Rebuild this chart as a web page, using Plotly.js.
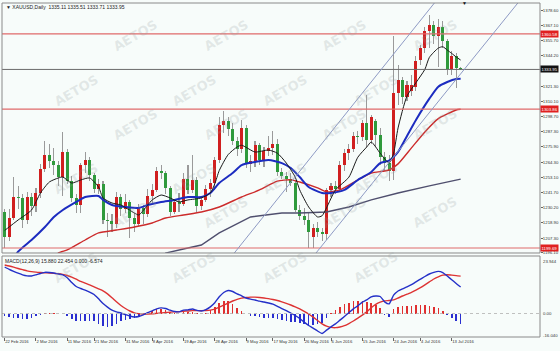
<!DOCTYPE html>
<html><head><meta charset="utf-8">
<script src="https://cdn.plot.ly/plotly-3.0.1.min.js"></script>
<style>html,body{margin:0;padding:0;background:#f7fcfa;}#chart{width:560px;height:351px;}</style>
</head><body><div id="chart"></div><script>
// ---------- DATA ----------
const dates = ["2016-02-22","2016-02-23","2016-02-24","2016-02-25","2016-02-26","2016-02-29",
"2016-03-01","2016-03-02","2016-03-03","2016-03-04","2016-03-07","2016-03-08","2016-03-09","2016-03-10","2016-03-11","2016-03-14","2016-03-15","2016-03-16","2016-03-17","2016-03-18","2016-03-21","2016-03-22","2016-03-23","2016-03-24","2016-03-28","2016-03-29","2016-03-30","2016-03-31",
"2016-04-01","2016-04-04","2016-04-05","2016-04-06","2016-04-07","2016-04-08","2016-04-11","2016-04-12","2016-04-13","2016-04-14","2016-04-15","2016-04-18","2016-04-19","2016-04-20","2016-04-21","2016-04-22","2016-04-25","2016-04-26","2016-04-27","2016-04-28","2016-04-29",
"2016-05-02","2016-05-03","2016-05-04","2016-05-05","2016-05-06","2016-05-09","2016-05-10","2016-05-11","2016-05-12","2016-05-13","2016-05-16","2016-05-17","2016-05-18","2016-05-19","2016-05-20","2016-05-23","2016-05-24","2016-05-25","2016-05-26","2016-05-27","2016-05-31",
"2016-06-01","2016-06-02","2016-06-03","2016-06-06","2016-06-07","2016-06-08","2016-06-09","2016-06-10","2016-06-13","2016-06-14","2016-06-15","2016-06-16","2016-06-17","2016-06-20","2016-06-21","2016-06-22","2016-06-23","2016-06-24","2016-06-27","2016-06-28","2016-06-29","2016-06-30",
"2016-07-01","2016-07-04","2016-07-05","2016-07-06","2016-07-07","2016-07-08","2016-07-11","2016-07-12","2016-07-13","2016-07-14","2016-07-15"];

const open = [1227,1208,1222,1238,1237,1221,1238,1231,1241,1259,1270,1265,1262,1253,1272,1250,1237,1232,1262,1266,1255,1244,1248,1221,1220,1218,1238,1229,
1234,1222,1218,1230,1225,1239,1243,1258,1256,1245,1227,1234,1233,1252,1243,1251,1231,1236,1244,1249,1266,
1292,1295,1289,1280,1274,1290,1263,1265,1277,1266,1273,1275,1278,1257,1254,1252,1249,1228,1224,1221,1208,
1215,1212,1210,1243,1246,1244,1262,1271,1274,1284,1283,1294,1281,1295,1285,1268,1264,1258,1316,1326,1313,1318,
1321,1341,1350,1363,1367,1359,1366,1355,1334,1344,1335.11];
const high = [1229,1229,1253,1246,1240,1242,1241,1245,1263,1280,1278,1275,1265,1287,1274,1254,1240,1264,1272,1268,1256,1252,1250,1226,1225,1242,1240,1240,
1236,1226,1233,1232,1244,1248,1261,1262,1258,1246,1236,1241,1256,1262,1270,1253,1239,1247,1252,1268,1298,
1303,1298,1294,1283,1296,1292,1270,1280,1279,1276,1284,1288,1282,1260,1257,1256,1251,1232,1230,1226,1218,
1219,1215,1245,1249,1250,1265,1274,1278,1287,1288,1296,1315,1300,1297,1290,1272,1270,1359,1337,1328,1325,1330,
1344,1352,1366,1375,1370,1372,1370,1357,1348,1346,1335.51];
const low = [1200,1205,1221,1229,1215,1218,1224,1227,1237,1257,1260,1255,1246,1239,1248,1234,1226,1226,1256,1250,1241,1240,1218,1208,1212,1215,1224,1226,
1207,1212,1216,1218,1223,1233,1242,1252,1240,1224,1225,1227,1231,1240,1241,1227,1228,1234,1238,1243,1264,
1286,1284,1277,1269,1271,1260,1257,1261,1262,1261,1269,1270,1254,1252,1242,1246,1227,1221,1217,1200,1200,
1208,1205,1206,1238,1240,1242,1258,1266,1272,1278,1280,1276,1278,1276,1262,1258,1250,1251,1307,1308,1310,1314,
1318,1337,1346,1350,1353,1336,1350,1330,1330,1320,1333.71];
const close = [1208,1222,1238,1237,1221,1238,1231,1241,1259,1270,1265,1262,1253,1272,1250,1237,1232,1262,1266,1255,1244,1248,1221,1220,1218,1238,1229,1234,
1222,1218,1230,1225,1239,1243,1258,1256,1245,1227,1234,1233,1252,1243,1251,1231,1236,1244,1249,1266,1292,
1295,1289,1280,1274,1290,1263,1265,1277,1266,1273,1275,1278,1257,1254,1252,1249,1228,1224,1221,1212,1215,
1212,1210,1243,1246,1244,1262,1271,1274,1284,1283,1294,1281,1298,1285,1268,1264,1258,1316,1326,1313,1322,1322,
1340,1350,1363,1367,1359,1366,1355,1334,1344,1335,1333.95];

const maBlackDates = ["2016-02-22","2016-02-23","2016-02-25","2016-03-01","2016-03-03","2016-03-07","2016-03-09","2016-03-10","2016-03-14","2016-03-16","2016-03-18","2016-03-22","2016-03-23","2016-03-28","2016-03-30","2016-04-04","2016-04-05","2016-04-07","2016-04-08","2016-04-12","2016-04-14","2016-04-18","2016-04-20","2016-04-25","2016-04-27","2016-04-28","2016-04-29","2016-05-03","2016-05-05","2016-05-06","2016-05-11","2016-05-16","2016-05-18","2016-05-20","2016-05-24","2016-05-25","2016-05-27","2016-06-01","2016-06-02","2016-06-03","2016-06-07","2016-06-10","2016-06-14","2016-06-16","2016-06-17","2016-06-21","2016-06-23","2016-06-24","2016-06-27","2016-06-29","2016-07-01","2016-07-05","2016-07-06","2016-07-08","2016-07-11","2016-07-12","2016-07-13","2016-07-14","2016-07-15"];
const maBlack = [1213,1215.6,1220.8,1228.3,1241.1,1249.4,1252.4,1253.1,1248.6,1250.9,1252.4,1245.6,1237.4,1233.6,1232.1,1226.1,1224.6,1232.1,1235.9,1239.6,1237.4,1234.4,1235.9,1237.4,1241.1,1248,1258,1270,1275.7,1277,1271.9,1273.4,1271,1263.6,1253,1243.4,1230.6,1223.1,1224,1230,1243.4,1253,1268,1275.7,1279.4,1271,1263.6,1271,1290,1314,1324,1334,1343,1350,1351,1348.5,1346,1343.3,1341];

const maBlueDates = ["2016-02-23","2016-02-25","2016-03-01","2016-03-04","2016-03-08","2016-03-10","2016-03-15","2016-03-17","2016-03-22","2016-03-23","2016-03-28","2016-03-31","2016-04-05","2016-04-07","2016-04-12","2016-04-15","2016-04-20","2016-04-25","2016-04-27","2016-04-29","2016-05-04","2016-05-06","2016-05-11","2016-05-16","2016-05-19","2016-05-23","2016-05-25","2016-05-27","2016-06-02","2016-06-06","2016-06-09","2016-06-14","2016-06-17","2016-06-21","2016-06-23","2016-06-27","2016-06-29","2016-07-01","2016-07-06","2016-07-08","2016-07-12","2016-07-14","2016-07-15"];
const maBlue = [1185,1197,1205.8,1215.6,1223,1228.3,1234.4,1238.1,1238.9,1235.9,1232.1,1230.6,1229.9,1232.1,1234.4,1235.9,1238.1,1238.1,1241.1,1248.6,1256.1,1262.1,1264.4,1265.9,1263.6,1259.9,1253.1,1245.6,1241.1,1241.1,1243.4,1250.9,1256.9,1263.6,1265.5,1272,1284,1296,1312,1321,1324.5,1326.8,1327];

const maRedDates = ["2016-03-08","2016-03-09","2016-03-11","2016-03-17","2016-03-22","2016-03-29","2016-04-04","2016-04-08","2016-04-13","2016-04-19","2016-04-25","2016-04-29","2016-05-06","2016-05-12","2016-05-18","2016-05-23","2016-05-25","2016-06-01","2016-06-03","2016-06-08","2016-06-14","2016-06-17","2016-06-23","2016-06-27","2016-06-30","2016-07-05","2016-07-08","2016-07-12","2016-07-14","2016-07-15"];
const maRed = [1190,1196,1198.3,1205.8,1211.1,1213.3,1215.6,1218.6,1222.3,1224.6,1226.8,1230.6,1238.1,1243.4,1250,1251,1249.4,1244.9,1241.9,1243.4,1250.9,1256.1,1258.4,1263,1275,1287,1297,1300.5,1303.5,1304];

const maGrayDates = ["2016-04-12","2016-04-13","2016-04-19","2016-04-25","2016-04-29","2016-05-10","2016-05-19","2016-05-25","2016-06-03","2016-06-10","2016-06-17","2016-06-27","2016-07-06","2016-07-14","2016-07-15"];
const maGray = [1190,1196,1199,1202,1211.1,1223.1,1226.1,1226.1,1226.8,1230.6,1235.9,1241.1,1246.5,1250.9,1251.5];

// MACD(12,26,9), one value per bar
const macdMain = [27.9,26.5,25.3,24.2,23.2,22.6,22.5,23.2,24.0,24.7,24.6,24.3,23.7,23.2,21.5,18.6,16.2,15.0,14.0,12.8,11.4,8.8,6.0,3.8,2.0,1.0,0.3,-0.6,
-1.5,-2.1,-1.8,-0.8,0.5,1.6,2.8,3.4,3.0,2.0,1.2,1.0,2.0,2.2,2.7,1.9,1.5,2.3,4.0,6.5,10.0,
12.6,13.8,13.2,11.8,10.6,9.3,8.6,8.1,7.4,6.9,6.3,5.6,4.3,3.0,1.7,0.3,-1.2,-3.0,-5.2,-7.2,-8.8,
-10.5,-12.0,-10.0,-8.0,-6.2,-4.0,-1.8,0.5,2.8,4.6,6.8,8.2,10.0,10.5,10.2,7.0,5.8,11.0,13.5,14.8,16.0,17.3,
19.0,20.6,22.2,23.7,24.7,25.3,24.6,22.5,20.3,18.0,15.88];
const macdSignal = [29.1,28.5,27.8,27.0,26.3,25.6,25.1,24.8,24.6,24.4,24.3,24.1,23.9,23.5,22.8,21.8,20.6,19.3,18.2,17.2,16.0,14.8,13.6,11.8,9.5,7.0,4.8,3.0,
1.5,0.4,-0.1,-0.3,-0.3,-0.2,0.1,0.4,0.6,0.8,1.0,1.1,1.3,1.5,1.7,1.7,1.7,1.8,2.0,2.6,3.8,
5.0,6.3,7.5,8.5,9.2,9.6,9.8,9.8,9.6,9.3,8.9,8.4,7.8,7.0,6.1,5.1,4.0,2.8,1.3,-0.3,-2.2,
-4.2,-6.2,-7.6,-8.3,-8.5,-8.1,-7.3,-6.0,-4.5,-2.8,-1.0,1.0,3.5,5.5,6.8,7.6,7.8,8.2,9.3,10.5,11.6,12.7,
14.0,15.5,17.2,19.0,20.7,22.0,23.0,23.3,23.0,22.7,22.454];
const macdHist = [-1.2,-2.0,-2.5,-2.8,-3.1,-3.0,-2.6,-1.6,-0.6,0.3,0.3,0.2,-0.2,-0.3,-1.3,-3.2,-4.4,-4.3,-4.2,-4.4,-4.6,-6.0,-7.6,-8.0,-7.5,-6.0,-4.5,-3.6,
-3.0,-2.5,-1.7,-0.5,0.8,1.8,2.7,3.0,2.4,1.2,0.2,-0.1,0.7,0.7,1.0,0.2,-0.2,0.5,2.0,3.9,6.2,
7.6,7.5,5.7,3.3,1.4,-0.3,-1.2,-1.7,-2.2,-2.4,-2.6,-2.8,-3.5,-4.0,-4.4,-4.8,-5.2,-5.8,-6.5,-6.9,-6.6,
-6.3,-5.8,-2.4,0.3,2.3,4.1,5.5,6.5,7.3,7.4,7.8,7.2,6.5,5.0,3.4,-0.6,-2.0,2.8,4.2,4.3,4.4,4.6,
5.0,5.1,5.0,4.7,4.0,3.3,1.6,-0.8,-2.7,-4.7,-6.574];

// horizontal levels and channel anchors (date index, price)
const resistanceLevels = [1360.6, 1304.2, 1199.8];
const resistanceLabels = ["1360.58", "1303.86", "1199.69"];
const lastPrice = 1333.95;
const channelUpper = [[48, 1181.9], [100, 1400.1]];
const channelLower = [[68, 1189.2], [118, 1397.2]];

// axis ticks (1332.80 sits under the current-price box, so it is not drawn)
const priceTicks = [1378.60,1367.10,1355.70,1344.20,1321.30,1310.10,1298.70,1287.30,1275.90,1264.30,1253.10,1241.70,1230.20,1218.90,1207.30,1196.10];
const tickDates = ["2016-02-22","2016-03-02","2016-03-11","2016-03-21","2016-03-31","2016-04-08","2016-04-19","2016-04-28","2016-05-09","2016-05-17","2016-05-26","2016-06-06","2016-06-15","2016-06-24","2016-07-04","2016-07-13"];
const tickLabels = ["22 Feb 2016","2 Mar 2016","11 Mar 2016","21 Mar 2016","31 Mar 2016","8 Apr 2016","19 Apr 2016","28 Apr 2016","9 May 2016","17 May 2016","26 May 2016","6 Jun 2016","15 Jun 2016","24 Jun 2016","4 Jul 2016","13 Jul 2016"];
const macdAxisLabels = ["23.944", "0.00", "-16.040"];
const titleText = "▼ XAUUSD,Daily  1335.11 1335.51 1333.71 1333.95";
const macdTitle = "MACD(12,26,9) 15.880 22.454 0.000 -6.574";

// ---------- STYLE ----------
const UP = '#d01f1f', DOWN = '#2f9a3c', WICK = '#9a9a9a';
const BG = '#f7fcfa';
const FONT = 'Liberation Sans, Arial, sans-serif';
const AX = 4.3;
const mainDom = [0.2515, 1], macdDom = [0, 0.2425];

const traces = [];
traces.push({type:'bar', x:dates, base:low, y:high.map((h,i)=>h-low[i]), width:0.24,
  marker:{color:WICK, line:{width:0}}, hoverinfo:'skip', xaxis:'x', yaxis:'y'});
traces.push({type:'bar', x:dates, base:open, y:close.map((c,i)=>c-open[i]), width:0.68,
  marker:{color:close.map((c,i)=>c>=open[i]?UP:DOWN), line:{width:0}}, hoverinfo:'skip', xaxis:'x', yaxis:'y'});
traces.push({type:'scatter', mode:'lines', x:maGrayDates, y:maGray, line:{color:'#4f4f6e', width:1.4}, xaxis:'x', yaxis:'y'});
traces.push({type:'scatter', mode:'lines', x:maRedDates, y:maRed, line:{color:'#cc2b2b', width:1.4, shape:'spline', smoothing:0.6}, xaxis:'x', yaxis:'y'});
traces.push({type:'scatter', mode:'lines', x:maBlueDates, y:maBlue, line:{color:'#1c2cc0', width:2, shape:'spline', smoothing:0.6}, xaxis:'x', yaxis:'y'});
traces.push({type:'scatter', mode:'lines', x:maBlackDates, y:maBlack, line:{color:'#1a1a1a', width:1, shape:'spline', smoothing:0.6}, xaxis:'x', yaxis:'y'});
// MACD panel
traces.push({type:'bar', x:dates, y:macdHist, width:0.36,
  marker:{color:macdHist.map(v=>v>=0?'#e03030':'#2a2fd0'), line:{width:0}}, hoverinfo:'skip', xaxis:'x', yaxis:'y2'});
traces.push({type:'scatter', mode:'lines', x:dates, y:macdSignal, line:{color:'#dd3333', width:1.4, shape:'spline', smoothing:0.5}, xaxis:'x', yaxis:'y2'});
traces.push({type:'scatter', mode:'lines', x:dates, y:macdMain, line:{color:'#2430c8', width:1.4, shape:'spline', smoothing:0.5}, xaxis:'x', yaxis:'y2'});

const shapes = [];
resistanceLevels.forEach(v=>shapes.push({type:'line', xref:'paper', x0:0, x1:1, yref:'y', y0:v, y1:v, line:{color:'#e06a6a', width:1.2}}));
shapes.push({type:'line', xref:'paper', x0:0, x1:1, yref:'y', y0:lastPrice, y1:lastPrice, line:{color:'#6a6a6a', width:1}});
[channelUpper, channelLower].forEach(c=>shapes.push({type:'line', xref:'x', yref:'y', x0:c[0][0], y0:c[0][1], x1:c[1][0], y1:c[1][1], line:{color:'#8e9ac4', width:1}}));
shapes.push({type:'line', xref:'paper', x0:0, x1:1, yref:'y2', y0:0, y1:0, line:{color:'#b0b0b0', width:0.8, dash:'dot'}});
shapes.push({type:'rect', xref:'paper', yref:'paper', x0:0, x1:1, y0:mainDom[0], y1:mainDom[1], line:{color:'#8a8a8a', width:1}});
shapes.push({type:'rect', xref:'paper', yref:'paper', x0:0, x1:1, y0:macdDom[0], y1:macdDom[1], line:{color:'#8a8a8a', width:1}});

const annotations = [];
// watermark lattice (decoration)
for (let r=0; r<7; r++) {
  for (let k=0; k<6; k++) {
    const px = -10 + 118*k + (r%2)*59, py = 14 + 55*r;
    if (px < 10 || px > 520 || py > 330) continue;
    annotations.push({xref:'paper', yref:'paper', x:(px-2)/538, y:(337-py)/334, text:'AETOS', showarrow:false,
      textangle:-30, font:{family:'DejaVu Sans, sans-serif', size:13, weight:'bold', color:'rgba(150,160,160,0.22)'}});
  }
}
annotations.push({xref:'paper', yref:'paper', x:0.004, y:(337-7)/334, xanchor:'left', yanchor:'middle', text:titleText, showarrow:false, font:{family:FONT, size:5, color:'#222'}});
annotations.push({xref:'paper', yref:'paper', x:0.002, y:(337-261)/334, xanchor:'left', yanchor:'middle', text:macdTitle, showarrow:false, font:{family:FONT, size:5, color:'#222'}});
annotations.push({xref:'paper', yref:'paper', x:(464-2)/538, y:1, xanchor:'center', yanchor:'middle', text:'▼', showarrow:false, font:{family:FONT, size:5, color:'#111'}});
const macdLabelY = [261, 313, 335];
macdAxisLabels.forEach((t,i)=>annotations.push({xref:'paper', yref:'paper', x:1, xshift:1, y:(337-macdLabelY[i])/334, xanchor:'left', yanchor:'middle', text:t, showarrow:false, font:{family:FONT, size:AX, color:'#333'}}));
resistanceLevels.forEach((v,i)=>annotations.push({xref:'paper', yref:'y', x:1, xshift:0, y:v, xanchor:'left', yanchor:'middle', text:resistanceLabels[i], showarrow:false, bgcolor:'#e02020', borderpad:0.5, font:{family:FONT, size:AX, color:'#ffffff'}}));
annotations.push({xref:'paper', yref:'y', x:1, xshift:0, y:lastPrice, xanchor:'left', yanchor:'middle', text:lastPrice.toFixed(2), showarrow:false, bgcolor:'#111111', borderpad:0.5, font:{family:FONT, size:AX, color:'#ffffff'}});

const layout = {
  width:560, height:351, margin:{l:2, r:20, t:3, b:14},
  paper_bgcolor:BG, plot_bgcolor:BG, showlegend:false, barmode:'overlay', bargap:0,
  xaxis:{type:'category', categoryorder:'array', categoryarray:dates, range:[-0.6, 119.75], anchor:'y2',
    tickmode:'array', tickvals:tickDates, ticktext:tickLabels, tickangle:0, ticks:'outside', ticklen:3, tickcolor:'#666',
    ticklabelposition:'outside right', tickfont:{family:FONT, size:4.2, color:'#333'},
    showgrid:false, zeroline:false, showline:false, fixedrange:true},
  yaxis:{domain:mainDom, range:[1196.03, 1383.86], side:'right', anchor:'x', tickmode:'array', tickvals:priceTicks,
    tickformat:'.2f', ticks:'outside', ticklen:2, tickcolor:'#666', ticklabelstandoff:-1, tickfont:{family:FONT, size:AX, color:'#333'},
    showgrid:false, zeroline:false, showline:false, fixedrange:true},
  yaxis2:{domain:macdDom, range:[-14.1, 34.5], side:'right', anchor:'x', showticklabels:false, ticks:'',
    showgrid:false, zeroline:false, showline:false, fixedrange:true},
  shapes:shapes, annotations:annotations
};
Plotly.newPlot('chart', traces, layout, {displayModeBar:false, staticPlot:true});
</script></body></html>
